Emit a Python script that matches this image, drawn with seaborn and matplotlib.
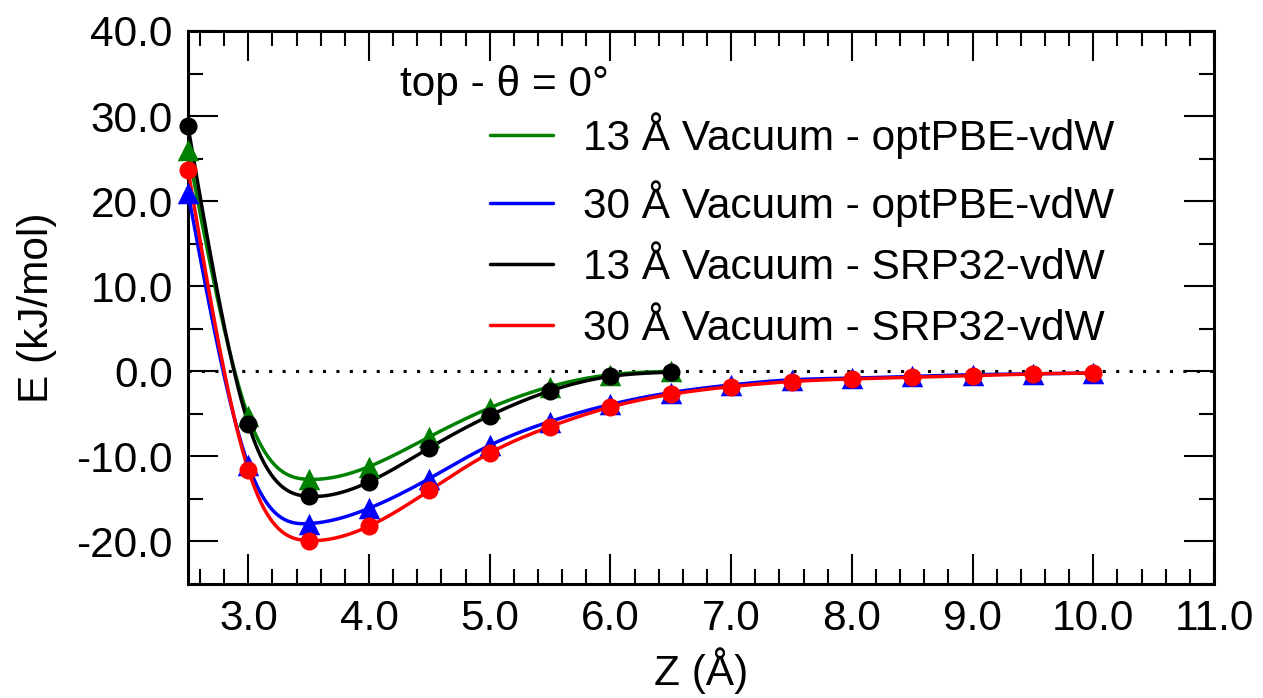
import numpy as np
import pandas as pd
import matplotlib
matplotlib.use("Agg")
import matplotlib.pyplot as plt
from matplotlib.ticker import MultipleLocator, FormatStrFormatter
from matplotlib.lines import Line2D
from matplotlib.transforms import IdentityTransform
import seaborn as sns

# data (E in kJ/mol vs Z in Angstrom)
z_13 = [2.5, 3.0, 3.5, 4.0, 4.5, 5.0, 5.5, 6.0, 6.5]
z_30 = [2.5, 3.0, 3.5, 4.0, 4.5, 5.0, 5.5, 6.0, 6.5, 7.0, 7.5, 8.0, 8.5, 9.0, 9.5, 10.0]

e_13_optpbe = [26.0, -5.3, -12.7, -11.2, -7.7, -4.3, -1.8, -0.4, 0.0]
e_30_optpbe = [21.0, -11.0, -17.9, -16.1, -12.6, -8.7, -5.9, -3.9, -2.5,
               -1.6, -1.0, -0.8, -0.6, -0.4, -0.3, -0.2]
e_13_srp32 = [28.8, -6.2, -14.7, -13.0, -9.0, -5.2, -2.3, -0.6, -0.1]
e_30_srp32 = [23.7, -11.6, -19.9, -18.2, -14.0, -9.6, -6.5, -4.2, -2.7,
              -1.8, -1.2, -0.9, -0.7, -0.5, -0.3, -0.2]

labels = ["13 Å Vacuum - optPBE-vdW", "30 Å Vacuum - optPBE-vdW",
          "13 Å Vacuum - SRP32-vdW", "30 Å Vacuum - SRP32-vdW"]
colors = ["#008000", "#0000ff", "#000000", "#ff0000"]
markers = ["^", "^", "o", "o"]
msizes = [15.5, 15.5, 13, 13]

series = [(z_13, e_13_optpbe), (z_30, e_30_optpbe), (z_13, e_13_srp32), (z_30, e_30_srp32)]


def natural_spline(x, y, n=40):
    # smooth curve through the points (natural cubic spline) for the drawn line
    x = np.asarray(x, float)
    y = np.asarray(y, float)
    k = len(x)
    h = np.diff(x)
    A = np.zeros((k, k))
    b = np.zeros(k)
    A[0, 0] = A[-1, -1] = 1.0
    for i in range(1, k - 1):
        A[i, i - 1] = h[i - 1]
        A[i, i] = 2 * (h[i - 1] + h[i])
        A[i, i + 1] = h[i]
        b[i] = 6 * ((y[i + 1] - y[i]) / h[i] - (y[i] - y[i - 1]) / h[i - 1])
    M = np.linalg.solve(A, b)
    xs, ys = [], []
    for i in range(k - 1):
        t = np.linspace(x[i], x[i + 1], n, endpoint=(i == k - 2))
        a = x[i + 1] - t
        c = t - x[i]
        s = (M[i] * a ** 3 + M[i + 1] * c ** 3) / (6 * h[i]) \
            + (y[i] / h[i] - M[i] * h[i] / 6) * a \
            + (y[i + 1] / h[i] - M[i + 1] * h[i] / 6) * c
        xs.extend(t)
        ys.extend(s)
    return np.array(xs), np.array(ys)


sns.set_style("ticks")
plt.rcParams['font.family'] = ['Liberation Sans', 'DejaVu Sans']
plt.rcParams['font.size'] = 30.5
plt.rcParams['text.color'] = 'black'
plt.rcParams['axes.labelcolor'] = 'black'

fig = plt.figure(figsize=(12.63, 6.98), dpi=100)
ax = fig.add_axes([188 / 1263, 1 - 584 / 698, (1214 - 188) / 1263, (584 - 31) / 698])

# dotted zero line
ax.axhline(0, color="black", lw=2.2, ls=(0, (1, 3.4)), zorder=1)

handles = []
for (zz, ee), lab, col, mk, ms in zip(series, labels, colors, markers, msizes):
    xs, ys = natural_spline(zz, ee)
    curve = pd.DataFrame({"Z": xs, "E": ys})
    pts = pd.DataFrame({"Z": zz, "E": ee})
    sns.lineplot(data=curve, x="Z", y="E", color=col, lw=2.5, estimator=None,
                 sort=False, ax=ax, zorder=3)
    sns.scatterplot(data=pts, x="Z", y="E", color=col, marker=mk, s=ms ** 2,
                    linewidth=0, ax=ax, zorder=4, clip_on=False)
    handles.append(Line2D([], [], color=col, lw=2.5))

ax.set_xlim(2.5, 11.0)
ax.set_ylim(-25, 40)
ax.xaxis.set_major_locator(MultipleLocator(1.0))
ax.xaxis.set_minor_locator(MultipleLocator(0.2))
ax.yaxis.set_major_locator(MultipleLocator(10))
ax.yaxis.set_minor_locator(MultipleLocator(5))
ax.xaxis.set_major_formatter(FormatStrFormatter("%.1f"))
ax.yaxis.set_major_formatter(FormatStrFormatter("%.1f"))

ax.tick_params(which="both", direction="in", top=True, right=True, width=1.5,
               labelsize=30.5, colors="black")
ax.tick_params(which="major", length=21.6, pad=11)
ax.tick_params(which="minor", length=10.8)
for sp in ax.spines.values():
    sp.set_visible(True)
    sp.set_linewidth(2.2)
    sp.set_color("black")

ax.set_xlabel("Z (Å)", fontsize=30.5, labelpad=6)
ax.set_ylabel("E (kJ/mol)", fontsize=30.5, labelpad=14)

# legend title placed as free text, left of the legend entries
fig.text(400, 698 - 85, "top - θ = 0°", fontsize=30.5, ha="left", va="center",
         transform=IdentityTransform())

leg = ax.legend(handles, labels, loc="upper left", frameon=False,
                fontsize=30.5, handlelength=1.48, handletextpad=0.72,
                labelspacing=0.5, borderaxespad=0, borderpad=0,
                bbox_to_anchor=((490 - 188) / 1026, (584 - 112) / 553))

fig.savefig("out.png", dpi=100)
